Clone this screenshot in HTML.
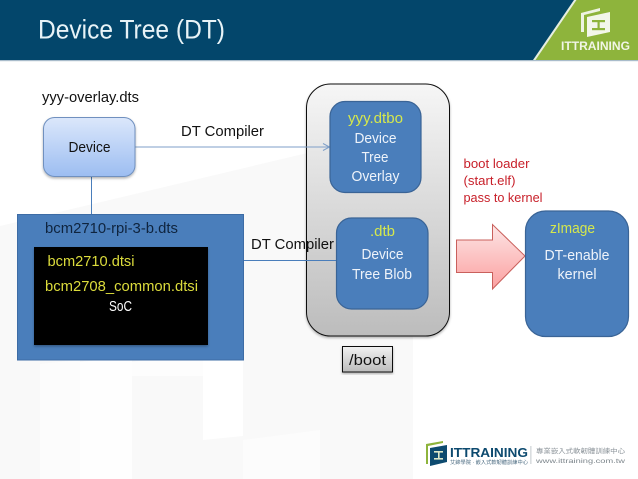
<!DOCTYPE html>
<html>
<head>
<meta charset="utf-8">
<style>
html,body{margin:0;padding:0;background:#fff;width:638px;height:479px;overflow:hidden}
svg{display:block}
text{font-family:"Liberation Sans","Noto Sans CJK TC",sans-serif}
</style>
</head>
<body>
<svg width="638" height="479" viewBox="0 0 638 479" xmlns="http://www.w3.org/2000/svg">
<defs>
<linearGradient id="dev" x1="0" y1="0" x2="0" y2="1"><stop offset="0" stop-color="#dbe7fb"/><stop offset="1" stop-color="#9cbdf1"/></linearGradient>
<linearGradient id="gray" x1="0" y1="0" x2="0" y2="1"><stop offset="0" stop-color="#f6f6f6"/><stop offset="1" stop-color="#bcbcbc"/></linearGradient>
<linearGradient id="boot" x1="0" y1="0" x2="0" y2="1"><stop offset="0" stop-color="#f2f2f2"/><stop offset="1" stop-color="#bcbcbc"/></linearGradient>
<linearGradient id="red" x1="0" y1="0" x2="0" y2="1"><stop offset="0" stop-color="#fde6e6"/><stop offset="1" stop-color="#fba0a0"/></linearGradient>
<filter id="sh" x="-10%" y="-10%" width="120%" height="120%"><feDropShadow dx="0" dy="1.5" stdDeviation="1.2" flood-color="#000" flood-opacity=".3"/></filter>
</defs>

<!-- watermark -->
<polygon points="0,226 320,150 413,130 413,479 0,479" fill="#f9f9f9"/>
<polygon points="40,364 80,360 80,479 40,479" fill="#fcfcfc"/>
<polygon points="80,362 132,356 132,479 80,479" fill="#fefefe"/>
<polygon points="203,350 243,345 243,436 203,440" fill="#ffffff"/>
<polygon points="132,362 203,352 203,376 132,376" fill="#fdfdfd"/>
<polygon points="243,440 320,430 320,479 243,479" fill="#fcfcfc"/>

<!-- header -->
<rect x="0" y="0" width="638" height="60" fill="#03466b"/>
<rect x="0" y="60" width="638" height="1.2" fill="#a9bccb"/>
<polygon points="576,0 638,0 638,60 534,60" fill="#8eb43c"/>
<polygon points="574,0 576.5,0 535.5,60 533,60" fill="#e6eee0"/>
<text x="38" y="38.5" font-size="27" fill="#e8f3f7" textLength="187" lengthAdjust="spacingAndGlyphs">Device Tree (DT)</text>

<!-- top logo -->
<polygon points="581,13 600,8 600,11 584,15 584,32 581,32" fill="#eef3e2"/>
<polygon points="587,17 610,12 610,32 587,37" fill="#f3f6ea"/>
<rect x="592" y="20" width="13" height="2.2" fill="#8eb43c"/>
<rect x="597.5" y="21" width="2.2" height="8" fill="#8eb43c"/>
<rect x="592" y="28" width="13" height="2.2" fill="#8eb43c"/>
<text x="561" y="50" font-size="11.5" font-weight="bold" fill="#f1f5e6" textLength="69" lengthAdjust="spacingAndGlyphs">ITTRAINING</text>

<!-- connectors -->
<line x1="135" y1="147" x2="329" y2="147" stroke="#7f9fc8" stroke-width="1"/>
<line x1="91.5" y1="176" x2="91.5" y2="215" stroke="#4a7ebb" stroke-width="1"/>
<line x1="244" y1="260.5" x2="337" y2="260.5" stroke="#4a7ebb" stroke-width="1"/>

<!-- device -->
<rect x="43.5" y="117.5" width="91.5" height="59" rx="11" fill="url(#dev)" stroke="#6f90bf" filter="url(#sh)"/>
<text x="89.5" y="152" font-size="15" fill="#111" text-anchor="middle" textLength="42" lengthAdjust="spacingAndGlyphs">Device</text>
<text x="42" y="102" font-size="15" fill="#111" textLength="97" lengthAdjust="spacingAndGlyphs">yyy-overlay.dts</text>
<text x="181" y="136" font-size="15" fill="#111" textLength="83" lengthAdjust="spacingAndGlyphs">DT  Compiler</text>

<!-- dts box -->
<rect x="17.5" y="214.5" width="226" height="145.5" fill="#4a7ebb" stroke="#3d6ca5"/>
<text x="45" y="233" font-size="15" fill="#0f243e" textLength="133" lengthAdjust="spacingAndGlyphs">bcm2710-rpi-3-b.dts</text>
<rect x="34" y="247" width="174" height="98" fill="#000" filter="url(#sh)"/>
<text x="47.5" y="266" font-size="15" fill="#dcdc3c" textLength="87" lengthAdjust="spacingAndGlyphs">bcm2710.dtsi</text>
<text x="45" y="291" font-size="15" fill="#dcdc3c" textLength="153" lengthAdjust="spacingAndGlyphs">bcm2708_common.dtsi</text>
<text x="120.5" y="311" font-size="15" fill="#fff" text-anchor="middle" textLength="23" lengthAdjust="spacingAndGlyphs">SoC</text>

<!-- boot container -->
<rect x="306.5" y="84" width="143" height="252" rx="24" fill="url(#gray)" stroke="#111" stroke-width="1" filter="url(#sh)"/>
<line x1="306" y1="260.5" x2="337" y2="260.5" stroke="#4a7ebb" stroke-width="1"/>
<line x1="306" y1="147" x2="329" y2="147" stroke="#7f9fc8" stroke-width="1"/>
<polyline points="323,143.5 329.5,147 323,150.5" fill="none" stroke="#7f9fc8" stroke-width="1"/>

<rect x="330" y="101.5" width="91" height="91" rx="15" fill="#4a7ebb" stroke="#3a6496" stroke-width="1.2"/>
<text x="375.5" y="123" font-size="15" fill="#d6e84c" text-anchor="middle" textLength="55" lengthAdjust="spacingAndGlyphs">yyy.dtbo</text>
<text x="375.5" y="143" font-size="15" fill="#eef3fa" text-anchor="middle" textLength="42" lengthAdjust="spacingAndGlyphs">Device</text>
<text x="375" y="162" font-size="15" fill="#eef3fa" text-anchor="middle" textLength="27" lengthAdjust="spacingAndGlyphs">Tree</text>
<text x="375.5" y="181" font-size="15" fill="#eef3fa" text-anchor="middle" textLength="48" lengthAdjust="spacingAndGlyphs">Overlay</text>

<rect x="336.5" y="218" width="91.5" height="91" rx="15" fill="#4a7ebb" stroke="#3a6496" stroke-width="1.2"/>
<text x="382.5" y="236" font-size="15" fill="#d6e84c" text-anchor="middle" textLength="25" lengthAdjust="spacingAndGlyphs">.dtb</text>
<text x="382.5" y="259" font-size="15" fill="#eef3fa" text-anchor="middle" textLength="42" lengthAdjust="spacingAndGlyphs">Device</text>
<text x="382" y="279" font-size="15" fill="#eef3fa" text-anchor="middle" textLength="60" lengthAdjust="spacingAndGlyphs">Tree Blob</text>
<text x="251" y="249" font-size="15" fill="#111" textLength="83" lengthAdjust="spacingAndGlyphs">DT  Compiler</text>

<!-- /boot -->
<rect x="342.5" y="346.5" width="50" height="25.5" fill="url(#boot)" stroke="#111" stroke-width="1" filter="url(#sh)"/>
<text x="367.5" y="365" font-size="15" fill="#111" text-anchor="middle" textLength="37" lengthAdjust="spacingAndGlyphs">/boot</text>

<!-- red -->
<text x="463.5" y="168" font-size="13" fill="#c8202a" textLength="66" lengthAdjust="spacingAndGlyphs">boot loader</text>
<text x="463.5" y="185" font-size="13" fill="#c8202a" textLength="52" lengthAdjust="spacingAndGlyphs">(start.elf)</text>
<text x="463.5" y="202" font-size="13" fill="#c8202a" textLength="79" lengthAdjust="spacingAndGlyphs">pass to kernel</text>

<polygon points="456.5,240 492.5,240 492.5,224.5 525,256 492.5,289 492.5,272.5 456.5,272.5" fill="url(#red)" stroke="#c9605c" stroke-width="1"/>

<!-- zImage -->
<rect x="525.5" y="211" width="103" height="125.5" rx="20" fill="#4a7ebb" stroke="#3a6496" stroke-width="1.2"/>
<text x="572.5" y="233" font-size="15" fill="#d6e84c" text-anchor="middle" textLength="45" lengthAdjust="spacingAndGlyphs">zImage</text>
<text x="577" y="260" font-size="15" fill="#eef3fa" text-anchor="middle" textLength="65" lengthAdjust="spacingAndGlyphs">DT-enable</text>
<text x="577" y="279" font-size="15" fill="#eef3fa" text-anchor="middle" textLength="39" lengthAdjust="spacingAndGlyphs">kernel</text>

<!-- bottom logo -->
<polygon points="426,444 443,441 443,443 428,446 428,464 426,464" fill="#8eb43c"/>
<polygon points="430,448 447,445 447,462 430,466" fill="#0d4a6f"/>
<rect x="434" y="451" width="9" height="1.6" fill="#dfe8c8"/>
<rect x="438" y="452" width="1.6" height="7" fill="#dfe8c8"/>
<rect x="434" y="458" width="9" height="1.6" fill="#dfe8c8"/>
<text x="450" y="457" font-size="13" font-weight="bold" fill="#0d4a6f" textLength="78" lengthAdjust="spacingAndGlyphs">ITTRAINING</text>
<text x="450" y="464" font-size="5" fill="#4a6a80" textLength="78" lengthAdjust="spacingAndGlyphs">艾鍗學院 · 嵌入式軟韌體訓練中心</text>
<rect x="530.5" y="446" width="0.8" height="18" fill="#b5bcc2"/>
<text x="536" y="453" font-size="6.5" fill="#8a9298" textLength="89" lengthAdjust="spacingAndGlyphs">專業嵌入式軟韌體訓練中心</text>
<text x="536" y="463" font-size="6.5" fill="#7d868c" textLength="89" lengthAdjust="spacingAndGlyphs">www.ittraining.com.tw</text>
</svg>
</body>
</html>
